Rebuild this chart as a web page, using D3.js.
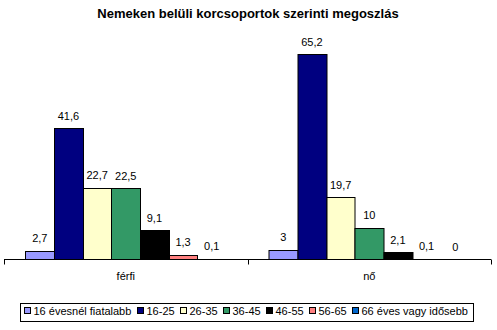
<!DOCTYPE html>
<html>
<head>
<meta charset="utf-8">
<script src="https://cdn.jsdelivr.net/npm/d3@7"></script>
<style>
  html, body { margin: 0; padding: 0; background: #fff; }
  svg { display: block; font-family: Arial, "Liberation Sans", sans-serif; }
</style>
</head>
<body>
<svg id="chart" width="497" height="330"></svg>
<script>
const title = "Nemeken belüli korcsoportok szerinti megoszlás";
const categories = ["férfi", "nő"];
const seriesNames = ["16 évesnél fiatalabb", "16-25", "26-35", "36-45", "46-55", "56-65", "66 éves vagy idősebb"];
const seriesColors = ["#9999FF", "#000080", "#FFFFCC", "#339966", "#000000", "#FF8080", "#0066CC"];
const valuesFerfi = [2.7, 41.6, 22.7, 22.5, 9.1, 1.3, 0.1];
const valuesNo = [3, 65.2, 19.7, 10, 2.1, 0.1, 0];
const valueLabelsFerfi = ["2,7", "41,6", "22,7", "22,5", "9,1", "1,3", "0,1"];
const valueLabelsNo = ["3", "65,2", "19,7", "10", "2,1", "0,1", "0"];

const values = [valuesFerfi, valuesNo];
const valueLabels = [valueLabelsFerfi, valueLabelsNo];

const svg = d3.select("#chart");

// Title
svg.append("text")
  .attr("x", 248).attr("y", 18)
  .attr("text-anchor", "middle")
  .attr("font-size", "13px").attr("font-weight", "bold")
  .text(title);

const x0 = d3.scaleBand().domain(categories).range([4, 491]).paddingInner(0).paddingOuter(0);
const x1 = d3.scaleBand().domain(d3.range(seriesNames.length)).range([0, x0.bandwidth()]).paddingInner(0).paddingOuter(0.75);
const y = d3.scaleLinear().domain([0, 70]).range([259, 39]);

const groups = svg.selectAll("g.cat").data(categories).enter().append("g")
  .attr("class", "cat")
  .attr("transform", d => `translate(${x0(d)},0)`);

groups.each(function(cat, ci) {
  const g = d3.select(this);
  const data = values[ci].map((v, i) => ({v, i, label: valueLabels[ci][i]}));
  g.selectAll("rect").data(data).enter().append("rect")
    .attr("x", d => Math.round(x1(d.i)) + 0.5)
    .attr("y", d => Math.round(y(d.v)) + 0.5)
    .attr("width", d => Math.round(x1(d.i) + x1.bandwidth()) - Math.round(x1(d.i)))
    .attr("height", d => Math.max(0, Math.round(y(0)) - Math.round(y(d.v))))
    .attr("fill", d => seriesColors[d.i])
    .attr("stroke", d => d.v > 0.05 ? "#000" : "none")
    .attr("stroke-width", 1);
  g.selectAll("text.val").data(data).enter().append("text")
    .attr("class", "val")
    .attr("x", d => x1(d.i) + x1.bandwidth() / 2)
    .attr("y", d => y(d.v) - 8.5)
    .attr("text-anchor", "middle")
    .attr("font-size", "11px")
    .text(d => d.label);
});

// Category axis
const axis = d3.axisBottom(x0).tickSize(0).tickPadding(0).tickFormat("");
const axG = svg.append("g").attr("transform", "translate(0,259.5)").call(axis);
axG.select(".domain").remove();
axG.append("line").attr("x1", 4).attr("x2", 491).attr("y1", 0).attr("y2", 0).attr("stroke", "#000");
const tickPositions = categories.map(c => x0(c)).concat([x0.range()[1]]);
axG.selectAll("line.tk").data(tickPositions).enter().append("line")
  .attr("class", "tk")
  .attr("x1", d => Math.round(d) + 0.5).attr("x2", d => Math.round(d) + 0.5)
  .attr("y1", 0).attr("y2", 5).attr("stroke", "#000");
svg.selectAll("text.cat").data(categories).enter().append("text")
  .attr("class", "cat")
  .attr("x", d => x0(d) + x0.bandwidth() / 2)
  .attr("y", 280)
  .attr("text-anchor", "middle")
  .attr("font-size", "11px")
  .text(d => d);

// Legend
svg.append("rect")
  .attr("x", 20.5).attr("y", 303.5).attr("width", 453).attr("height", 18)
  .attr("fill", "#fff").attr("stroke", "#000");
const legG = svg.append("g");
const items = legG.selectAll("g").data(seriesNames).enter().append("g");
items.append("rect")
  .attr("width", 6).attr("height", 6)
  .attr("y", 307.5)
  .attr("fill", (d, i) => seriesColors[i]).attr("stroke", "#000");
items.append("text")
  .attr("x", 9).attr("y", 314.5)
  .attr("font-size", "11px")
  .text(d => d);
const widths = [];
items.each(function() { widths.push(9 + this.querySelector("text").getComputedTextLength()); });
const startX = 24, endX = 467;
const gap = (endX - startX - d3.sum(widths)) / (widths.length - 1);
let cx = startX;
items.each(function(d, i) {
  d3.select(this).attr("transform", `translate(${Math.round(cx) + 0.5},0)`);
  cx += widths[i] + gap;
});
</script>
</body>
</html>
